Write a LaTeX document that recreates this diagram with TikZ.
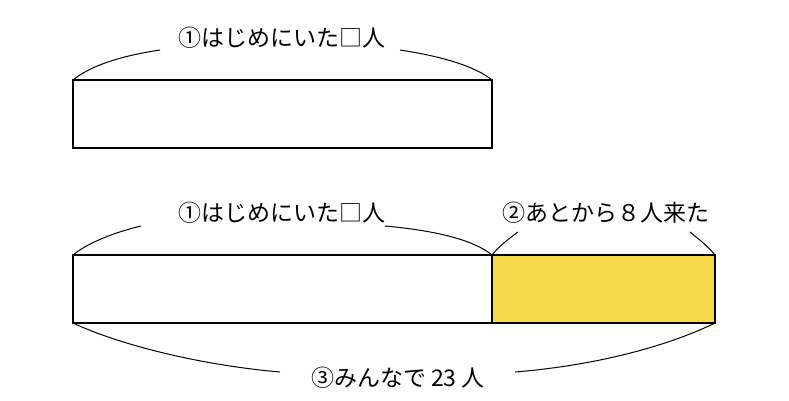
\documentclass[tikz,border=0pt]{standalone}
\usepackage{fontspec}
\setmainfont{Noto Sans CJK JP}
\begin{document}
\begin{tikzpicture}[x=1pt,y=-1pt,line width=1.3pt,
  lbl/.style={inner sep=0pt,font=\fontsize{23}{25}\selectfont},
  arc/.style={line width=1pt}]
\useasboundingbox (0,0) rectangle (789,400);
\definecolor{yel}{HTML}{F6D94A}
\draw (73,80) rectangle (492,148);
\coordinate (a1) at (73,80); \coordinate (a2) at (492,80);
\node[lbl] (t1) at (282,38) {①はじめにいた□人};
\draw[arc] (a1) .. controls (90,66) and (120,56) .. (160,50);
\draw[arc] (a2) .. controls (475,66) and (440,56) .. (400,50);
\fill[yel] (492,255) rectangle (715,323);
\draw (73,255) rectangle (715,323);
\draw (492,255) -- (492,323);
\node[lbl] (t2) at (282,213) {①はじめにいた□人};
\node[lbl] (t3) at (606,213) {②あとから８人来た};
\coordinate (b1) at (73,255); \coordinate (b2) at (492,255); \coordinate (b3) at (715,255);
\draw[arc] (b1) .. controls (90,241) and (120,231) .. (141,226);
\draw[arc] (b2) .. controls (475,241) and (440,231) .. (385,226);
\draw[arc] (b2) .. controls (500,245) and (510,238) .. (518,232);
\draw[arc] (b3) .. controls (707,245) and (697,238) .. (690,232);
\coordinate (c1) at (73,323); \coordinate (c3) at (715,323);
\node[lbl] (t4) at (398,378) {③みんなで 23 人};
\draw[arc] (c1) .. controls (120,345) and (200,365) .. (280,372);
\draw[arc] (c3) .. controls (670,345) and (600,365) .. (515,372);
\end{tikzpicture}
\end{document}
